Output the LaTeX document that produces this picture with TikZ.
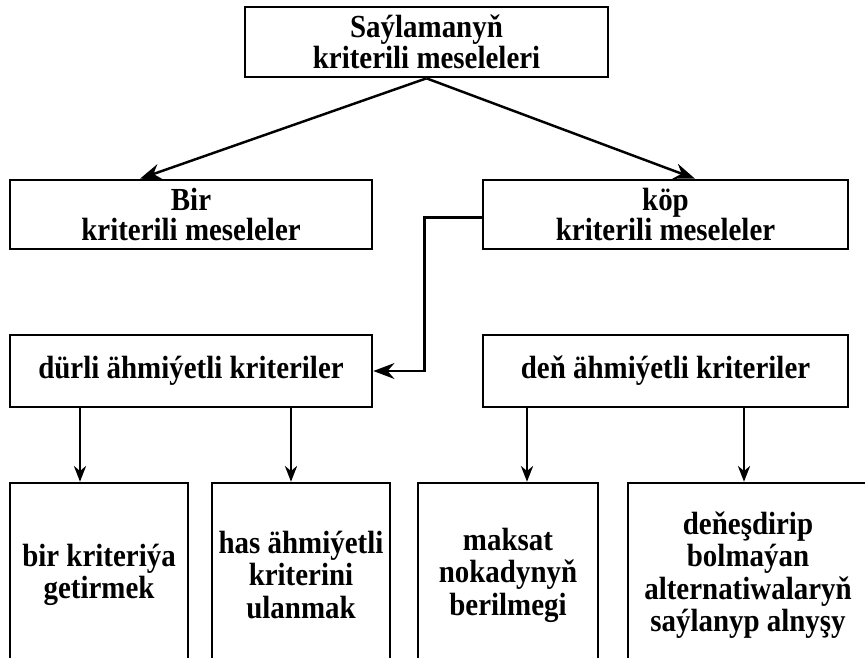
\documentclass[tikz,border=0pt]{standalone}
\usepackage{fontspec}
\newfontfamily\boxfont{Liberation Serif}[FakeStretch=0.9]
\usepackage{tikz}
\usetikzlibrary{arrows.meta, calc}
\tikzset{
  block/.style={
    rectangle, draw=black, line width=1.5pt, align=center,
    inner sep=0pt, font=\boxfont\bfseries\fontsize{18.3pt}{16.6pt}\selectfont
  },
  leaf/.style={
    block, minimum height=184*0.02cm,
    font=\boxfont\bfseries\fontsize{18.3pt}{18.5pt}\selectfont
  },
  toparrow/.style={-{Stealth[length=12pt, width=9pt]}, line width=1.4pt},
  varrow/.style={-{Stealth[length=9pt, width=7pt]}, line width=0.9pt}
}

\begin{document}
\begin{tikzpicture}[x=0.02cm, y=-0.02cm]
  \useasboundingbox (0,0) rectangle (865,657);
  \clip (0,0) rectangle (865,657);

  \node[block, minimum width=363*0.02cm, minimum height=70*0.02cm] (sayla) at (426.5,42)
    {Saýlamanyň\\kriterili meseleleri};
  \node[block, minimum width=362*0.02cm, minimum height=69*0.02cm] (bir) at (191,214.5)
    {Bir\\kriterili meseleler};
  \node[block, minimum width=365*0.02cm, minimum height=69*0.02cm] (kop) at (665.5,214.5)
    {köp\\kriterili meseleler};
  \node[block, minimum width=362*0.02cm, minimum height=72*0.02cm] (durli) at (191,371)
    {dürli ähmiýetli kriteriler};
  \node[block, minimum width=365*0.02cm, minimum height=72*0.02cm] (den) at (665.5,371)
    {deň ähmiýetli kriteriler};

  % bottom row, cut by the page edge
  \node[leaf, minimum width=178*0.02cm] (getir) at (99,575)
    {bir kriteriýa\\getirmek};
  \node[leaf, minimum width=178*0.02cm] (has) at (301,575)
    {has ähmiýetli\\kriterini\\ulanmak};
  \node[leaf, minimum width=180*0.02cm] (maksat) at (508,575)
    {maksat\\nokadynyň\\berilmegi};
  \node[leaf, minimum width=240*0.02cm] (denes) at (748,575)
    {deňeşdirip\\bolmaýan\\alternatiwalaryň\\saýlanyp alnyşy};

  \draw[toparrow] (sayla.south) -- ($(bir.north)+(-51,0)$);
  \draw[toparrow] (sayla.south) -- ($(kop.north)+(29.5,0)$);
  \draw[toparrow] ($(kop.west)+(0,3)$) -- ++(-57,0) |- (durli.east);

  \path ($(getir.north)+(-19,0)$) coordinate (t1)
        ($(has.north)+(-10,0)$) coordinate (t2)
        ($(maksat.north)+(19,0)$) coordinate (t3)
        ($(denes.north)+(-4,0)$) coordinate (t4);
  \foreach \t/\src in {t1/durli, t2/durli, t3/den, t4/den}
    \draw[varrow] (\t |- \src.south) -- (\t);
\end{tikzpicture}
\end{document}
